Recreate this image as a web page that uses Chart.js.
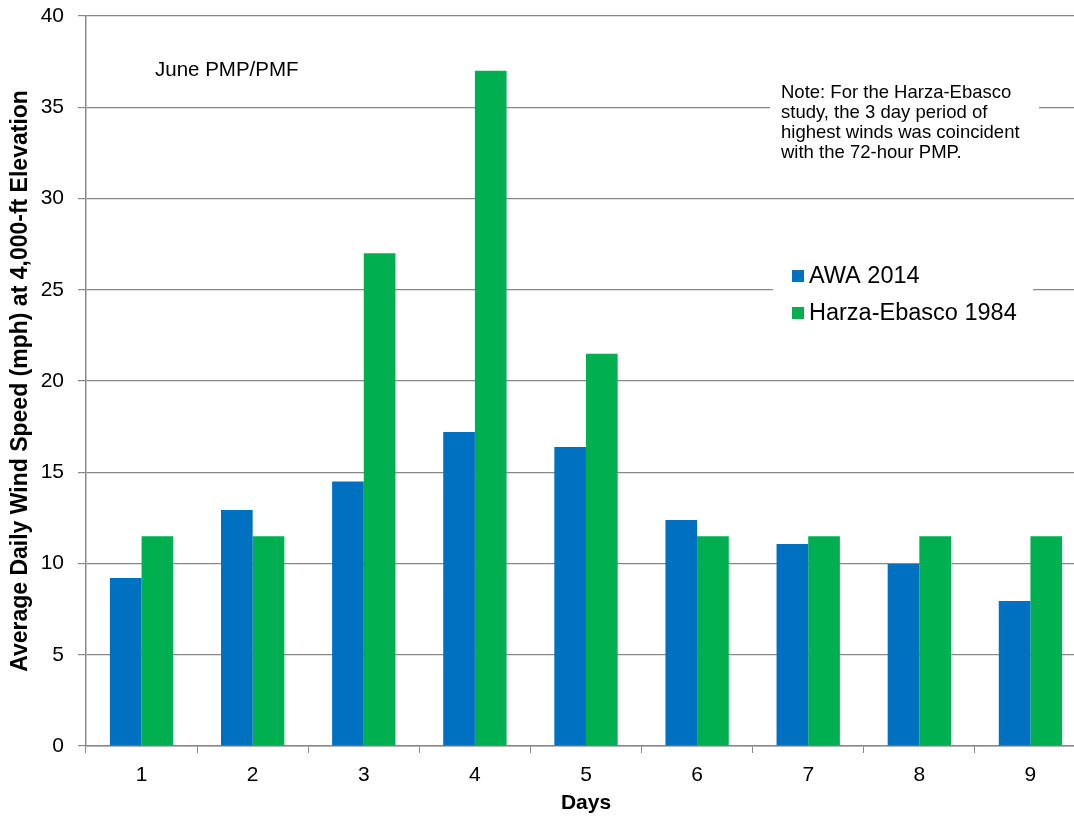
<!DOCTYPE html>
<html>
<head>
<meta charset="utf-8">
<script src="https://cdn.jsdelivr.net/npm/chart.js@4"></script>
<style>
  html, body { margin: 0; padding: 0; background: #fff; overflow: hidden; }
  #wrap { width: 1086px; height: 817px; position: relative; }
</style>
</head>
<body>
<div id="wrap"><canvas id="windChart"></canvas></div>
<script>
const days = ['1', '2', '3', '4', '5', '6', '7', '8', '9'];
const awa2014 = [9.2, 12.93, 14.5, 17.2, 16.38, 12.38, 11.07, 9.97, 7.95];
const harza1984 = [11.5, 11.5, 27, 37, 21.5, 11.5, 11.5, 11.5, 11.5];
const seriesNames = ['AWA 2014', 'Harza-Ebasco 1984'];
const seriesColors = ['#0070C0', '#00B050'];
const noteLines = [
    'Note: For the Harza-Ebasco',
    'study, the 3 day period of',
    'highest winds was coincident',
    'with the 72-hour PMP.'
];
const chartLabel = 'June PMP/PMF';

Chart.defaults.font.family = '"Liberation Sans", Arial, sans-serif';
Chart.defaults.color = '#000';

// draws the text boxes inside the plot (covers grid lines behind them)
const annotations = {
    id: 'annotations',
    beforeDatasetsDraw(chart) {
        const ctx = chart.ctx;
        ctx.save();
        ctx.fillStyle = '#fff';
        ctx.fillRect(770, 80, 269, 100);
        ctx.fillRect(773, 255, 260, 75);

        ctx.fillStyle = '#000';
        ctx.textBaseline = 'middle';
        ctx.font = '20.5px "Liberation Sans", Arial, sans-serif';
        ctx.fillText(chartLabel, 155, 70);

        ctx.font = '18.5px "Liberation Sans", Arial, sans-serif';
        noteLines.forEach((line, i) => ctx.fillText(line, 781, 93 + i * 20));

        ctx.font = '23.5px "Liberation Sans", Arial, sans-serif';
        seriesNames.forEach((name, i) => {
            const y = 276 + i * 37;
            ctx.fillStyle = seriesColors[i];
            ctx.fillRect(792, y - 6, 12, 12);
            ctx.fillStyle = '#000';
            ctx.fillText(name, 809, y + 1);
        });
        ctx.restore();
    }
};

const ctx = document.getElementById('windChart').getContext('2d');
const windChart = new Chart(ctx, {
    type: 'bar',
    data: {
        labels: days,
        datasets: [
            { label: seriesNames[0], data: awa2014, backgroundColor: seriesColors[0] },
            { label: seriesNames[1], data: harza1984, backgroundColor: seriesColors[1] }
        ]
    },
    options: {
        responsive: true,
        maintainAspectRatio: false,
        animation: false,
        layout: { padding: { top: 16, right: 0, left: 0, bottom: 0 } },
        datasets: { bar: { categoryPercentage: 0.57, barPercentage: 1 } },
        plugins: {
            legend: { display: false },
            tooltip: { enabled: false }
        },
        scales: {
            x: {
                grid: { offset: true, drawOnChartArea: false, drawTicks: true, tickLength: 7, color: '#888' },
                border: { color: '#888', width: 1.5 },
                ticks: { font: { size: 21 }, padding: 10, color: '#000' },
                title: { display: true, text: 'Days', font: { size: 21, weight: 'bold' }, padding: { top: 0, bottom: 1 } },
                afterFit: s => { s.height = 71; s.paddingLeft = 0; s.paddingRight = 0; }
            },
            y: {
                min: 0,
                max: 40,
                ticks: { stepSize: 5, font: { size: 21 }, padding: 14, color: '#000' },
                grid: { color: '#888', lineWidth: 1.2, tickLength: 8 },
                border: { color: '#888', width: 1.5 },
                title: { display: true, text: 'Average Daily Wind Speed (mph) at 4,000-ft Elevation', font: { size: 23, weight: 'bold' }, padding: { top: 7, bottom: 0 } },
                afterFit: s => { s.width = 86; s.paddingTop = 0; s.paddingBottom = 0; }
            }
        }
    },
    plugins: [annotations]
});
</script>
</body>
</html>
